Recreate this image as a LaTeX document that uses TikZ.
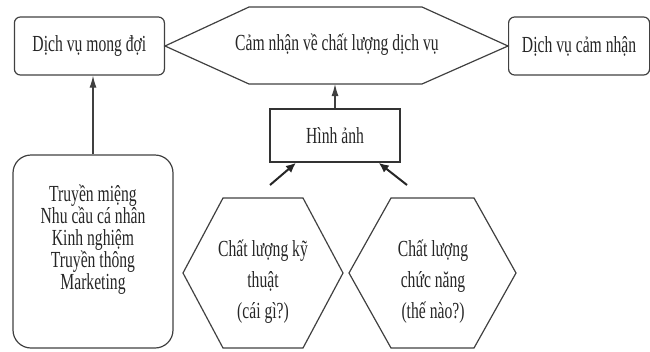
\documentclass[tikz,border=0pt]{standalone}
\usepackage{fontspec}
\setmainfont[FakeStretch=0.68]{Liberation Serif}
\usetikzlibrary{shapes,arrows.meta,positioning,calc}
\setlength{\lineskiplimit}{-50pt}

\begin{document}
\begin{tikzpicture}[
    x=1pt, y=-1pt,
    font=\fontsize{23pt}{22pt}\selectfont,
    lineCol/.style={draw=black!75, line width=1.2pt},
    roundBox/.style={
        rectangle, rounded corners=6pt, lineCol, text=black!85,
        minimum height=58pt, inner sep=2pt, align=center
    },
    sourceBox/.style={
        rectangle, rounded corners=18pt, lineCol,
        minimum width=160pt, minimum height=193pt
    },
    imageBox/.style={
        rectangle, draw=black!80, line width=1.6pt, text=black!85,
        minimum width=130pt, minimum height=53pt
    },
    hexText/.style={
        text=black!85, align=center, inner sep=0pt,
        font=\fontsize{23pt}{31pt}\selectfont
    },
    upArrow/.style={
        -{Latex[length=12pt, width=7pt]}, lineCol
    },
    feedArrow/.style={
        -{Latex[length=10pt, width=9pt]}, draw=black!85, line width=2pt
    }
]
\useasboundingbox (0,0) rectangle (650,351);

% Top: perceived quality hexagon
\coordinate (pW) at (165,46);
\coordinate (pNW) at (249,7);
\coordinate (pNE) at (422,7);
\coordinate (pE) at (508,46);
\coordinate (pSE) at (422,84);
\coordinate (pSW) at (249,84);
\draw[lineCol] (pW) -- (pNW) -- (pNE) -- (pE) -- (pSE) -- (pSW) -- cycle;
\node[text=black!85] (percep) at (337,45) {Cảm nhận về chất lượng dịch vụ};

\node[roundBox, minimum width=150pt, left=0pt of pW] (expected) {Dịch vụ mong đợi};
\node[roundBox, minimum width=141pt, right=0pt of pE] (perceived) {Dịch vụ cảm nhận};

% Image
\node[imageBox] (image) at (335,135.5) {Hình ảnh};

% Bottom left: sources of expectation
\node[sourceBox] (srcBox) at (93,251.5) {};
\node[text=black!85, align=center] (sources) at ($(srcBox.center)+(0,-12)$) {
    Truyền miệng\\
    Nhu cầu cá nhân\\
    Kinh nghiệm\\
    Truyền thông\\
    Marketing
};

% Bottom: technical and functional quality
\draw[lineCol] (183,273) -- (223,198) -- (303,198) -- (343,273) -- (303,348) -- (223,348) -- cycle;
\node[hexText] (techQ) at (263,282) {Chất lượng kỹ\\thuật\\(cái gì?)};

\draw[lineCol] (349,273) -- (391,198) -- (474,198) -- (516,273) -- (474,348) -- (391,348) -- cycle;
\node[hexText] (funcQ) at (433,282) {Chất lượng\\chức năng\\(thế nào?)};

% Flows
\draw[upArrow] (srcBox.north) -- (srcBox.north |- expected.south);
\draw[upArrow] (image.north) -- (image.north |- pSW);

\coordinate (fbL) at (270,185);
\coordinate (fbR) at (407,185);
\draw[feedArrow] (fbL) -- (image.215);
\draw[feedArrow] (fbR) -- (image.328);

\end{tikzpicture}
\end{document}
